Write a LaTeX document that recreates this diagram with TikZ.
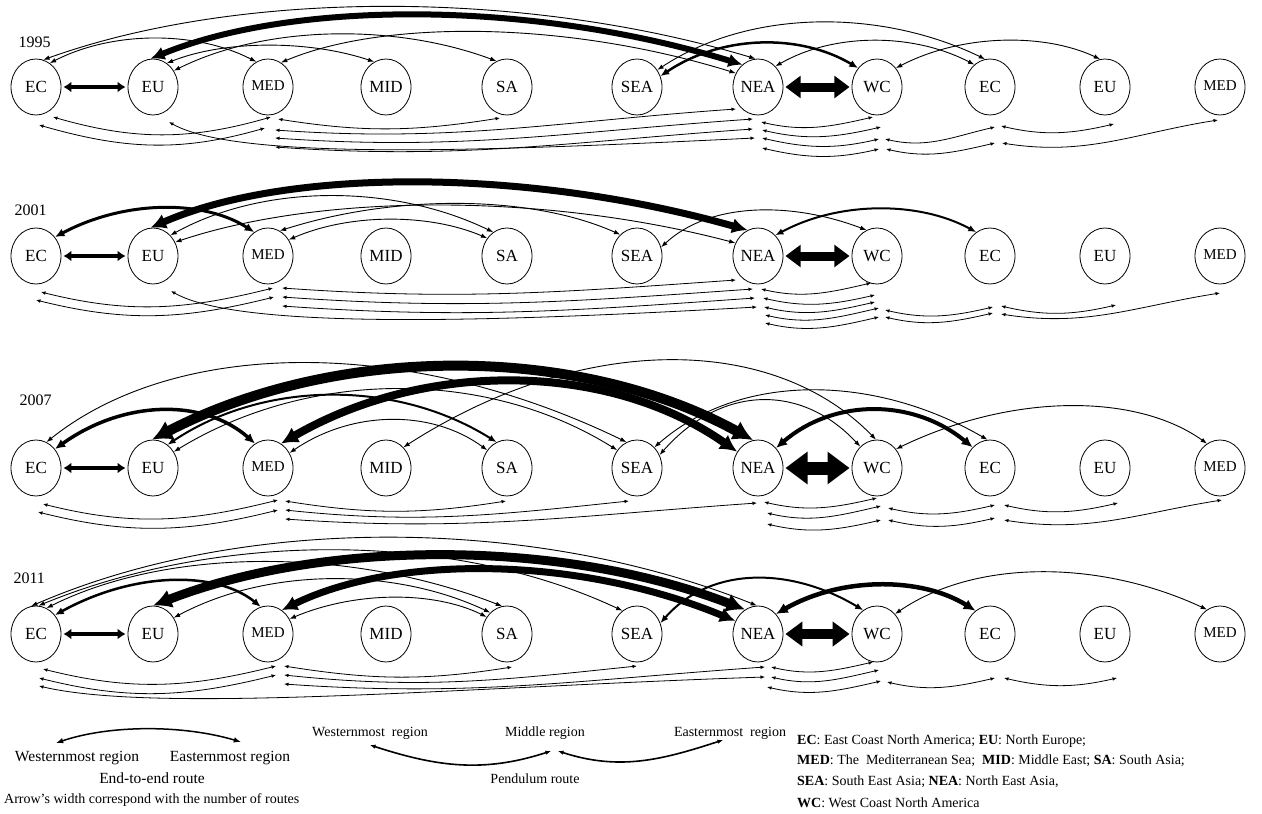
\documentclass[tikz,border=0pt]{standalone}
\usepackage{fontspec}
\setmainfont{Liberation Serif}
\usetikzlibrary{arrows.meta,shapes.geometric}
\newcommand\pd[5]{\draw[pend] ([shift={(#2)}]#1.center) to[sag=#5] ([shift={(#4)}]#3.center);}
\newcommand\ta[6][0.9pt]{\draw[e2e=#1] (#2) .. controls (#4,#6) and (#5,#6) .. (#3);}
\begin{document}
\begin{tikzpicture}[x=1pt,y=1pt,
  region/.style={draw, ellipse, line width=0.8pt, minimum width=50pt, minimum height=56pt, inner sep=0pt, font=\fontsize{17}{17}\selectfont},
  regionm/.style={region, font=\fontsize{15}{15}\selectfont},
  e2e/.style={line width=#1, {Latex[length=5pt 1.5, width=3pt 1.8]}-{Latex[length=5pt 1.5, width=3pt 1.8]}},
  pend/.style={line width=0.8pt, {Latex[length=4.5pt,width=3.6pt]}-{Latex[length=4.5pt,width=3.6pt]}},
  pendL/.style={line width=1.6pt, {Latex[length=5.5pt,width=4.5pt]}-{Latex[length=5.5pt,width=4.5pt]}},
  sag/.code={\pgfmathsetmacro\sgin{180+#1}\pgfkeysalso{out=-#1,in=\sgin}},
  hbar/.style={line width=4pt, shorten >=2pt, shorten <=2pt, {Latex[length=8pt,width=11pt]}-{Latex[length=8pt,width=11pt]}},
  block/.style={line width=#1, shorten >=2pt, shorten <=2pt, {Triangle[length=1.7*#1,width=2.4*#1]}-{Triangle[length=1.7*#1,width=2.4*#1]}},
  yr/.style={anchor=west, font=\fontsize{16}{16}\selectfont},
  lg/.style={font=\fontsize{15.5}{16}\selectfont, inner sep=0pt},
  lgs/.style={font=\fontsize{14}{16}\selectfont, inner sep=0pt},
]
\useasboundingbox (0,0) rectangle (1262,-814);
\fill[white] (0,0) rectangle (1262,-814);

% ---------- nodes ----------
\foreach \r/\yy in {a/87,b/256,c/468,d/634}{
  \foreach \n/\xx/\lab in {EC/36/EC, EU/153/EU, MID/386/MID, SA/507/SA, SEA/637/SEA, NEA/758/NEA, WC/877/WC, ECb/990/EC, EUb/1105/EU}
    \node[region] (\r\n) at (\xx,-\yy) {\lab};
  \node[regionm] (\r MED) at (268,-\yy) {\raisebox{2pt}{MED}};
  \node[regionm] (\r MEDb) at (1220,-\yy) {\raisebox{2pt}{MED}};
}
\node[yr] (y1995) at (15,-42) {1995};
\node[yr] (y2001) at (11,-210) {2001};
\node[yr] (y2007) at (16,-400) {2007};
\node[yr] (y2011) at (10,-578) {2011};

% ---------- 1995 ----------
\draw[hbar] (aEC.east) -- (aEU.west);
\draw[block=9pt] (aNEA.east) -- (aWC.west);
\ta{aEC.75}{aNEA.95}{240}{524}{10.7}
\ta{aEC.60}{aMED.115}{113}{196}{-30.7}
\ta[6pt]{aEU.95}{aNEA.125}{294}{531}{0}
\ta{aEU.60}{aMID.115}{225}{309}{-40}
\ta{aEU.38}{aSA.112}{268}{397}{-24}
\ta{aMED.62}{aNEA.148}{382}{564}{-20}
\ta[2.5pt]{aSEA.25}{aWC.135}{723}{801}{-34}
\ta{aSEA.40}{aECb.100}{750}{881}{-8.7}
\ta{aNEA.50}{aECb.125}{834}{913}{-32.7}
\ta{aWC.45}{aEUb.100}{963}{1045}{-33.3}
\pd{aEC}{17,-30}{aMED}{3,-30}{16}
\pd{aEC}{3,-38}{aMED}{-3,-41}{16}
\pd{aMED}{10,-32}{aSA}{-7,-31}{9}
\pd{aMED}{7,-43}{aNEA}{-22,-22}{4}
\pd{aMED}{7,-51}{aNEA}{-5,-32}{4}
\pd{aMED}{7,-60}{aNEA}{-5,-42}{4}
\draw[pend] ([shift={(16,-35)}]aEU.center) .. controls +(70,-40) and +(-250,-12) .. ([shift={(-3,-51)}]aNEA.center);
\pd{aNEA}{3,-35}{aWC}{-4,-30}{13}
\pd{aNEA}{4,-43}{aWC}{4,-40}{13}
\pd{aNEA}{4,-51}{aWC}{2,-52}{13}
\pd{aNEA}{4,-61}{aWC}{2,-62}{13}
\pd{aWC}{8,-52}{aECb}{5,-40}{13}
\pd{aWC}{9,-62}{aECb}{5,-56}{13}
\pd{aECb}{11,-39}{aEUb}{9,-37}{13}
\pd{aECb}{12,-56}{aMEDb}{-2,-33}{9}

% ---------- 2001 ----------
\draw[hbar] (bEC.east) -- (bEU.west);
\draw[block=9pt] (bNEA.east) -- (bWC.west);
\ta[3pt]{bEC.45}{bMED.120}{125}{204}{-199.7}
\ta[7pt]{bEU.95}{bNEA.112}{288}{527}{-167.7}
\ta{bEU.50}{bSA.120}{264}{393}{-183.7}
\ta{bEU.32}{bNEA.150}{322}{546}{-193}
\ta{bMED.65}{bSEA.128}{394}{530}{-194.3}
\ta{bMED.38}{bSA.138}{350}{429}{-213.3}
\ta{bSEA.20}{bWC.112}{710}{792}{-201.7}
\ta[2pt]{bNEA.50}{bECb.120}{839}{919}{-201}
\pd{bEC}{5,-36}{bMED}{5,-32}{14}
\pd{bEC}{0,-44}{bMED}{6,-41}{14}
\pd{bMED}{14,-32}{bNEA}{-22,-24}{4}
\pd{bMED}{14,-41}{bNEA}{-5,-33}{4}
\pd{bMED}{14,-50}{bNEA}{-3,-42}{4}
\draw[pend] ([shift={(18,-35)}]bEU.center) .. controls +(70,-40) and +(-250,-14) .. ([shift={(-1,-51)}]bNEA.center);
\pd{bNEA}{3,-33}{bWC}{-6,-27}{13}
\pd{bNEA}{5,-42}{bWC}{-2,-39}{13}
\pd{bNEA}{6,-51}{bWC}{-2,-46}{13}
\pd{bNEA}{7,-59}{bWC}{2,-52}{13}
\pd{bNEA}{7,-67}{bWC}{2,-61}{13}
\pd{bWC}{8,-54}{bECb}{3,-51}{13}
\pd{bWC}{8,-61}{bECb}{3,-57}{13}
\pd{bECb}{11,-50}{bEUb}{11,-49}{13}
\pd{bECb}{11,-58}{bMEDb}{0,-37}{9}

% ---------- 2007 ----------
\draw[hbar] (cEC.east) -- (cEU.west);
\draw[block=13pt] (cNEA.east) -- (cWC.west);
\ta{cEC.68}{cSEA.112}{178}{410}{-337}
\ta[3.5pt]{cEC.45}{cMED.118}{125}{205}{-399}
\ta[10pt]{cEU.92}{cNEA.100}{337}{577}{-343.7}
\ta[2pt]{cEU.58}{cSA.112}{265}{397}{-379.7}
\ta{cEU.38}{cSEA.138}{310}{487}{-368.7}
\ta[8pt]{cMED.62}{cNEA.142}{424}{607}{-360.7}
\ta{cMED.35}{cSA.138}{353}{432}{-409.7}
\ta{cMID.50}{cWC.92}{581}{772}{-333}
\ta{cSEA.30}{cWC.128}{722}{802}{-384}
\ta{cSEA.50}{cECb.95}{739}{872}{-373}
\ta[4pt]{cNEA.48}{cECb.130}{834}{913}{-398.3}
\ta{cWC.45}{cMEDb.118}{1012}{1136}{-393}
\pd{cEC}{7,-36}{cMED}{10,-32}{14}
\pd{cEC}{2,-44}{cMED}{10,-42}{14}
\pd{cMED}{17,-33}{cSA}{-1,-33}{9}
\pd{cMED}{17,-42}{cSEA}{-8,-33}{6}
\pd{cMED}{17,-51}{cNEA}{-1,-35}{4}
\pd{cNEA}{6,-34}{cWC}{0,-30}{13}
\pd{cNEA}{9,-45}{cWC}{4,-38}{13}
\pd{cNEA}{9,-56}{cWC}{4,-52}{13}
\pd{cWC}{11,-40}{cECb}{5,-37}{13}
\pd{cWC}{11,-52}{cECb}{5,-50}{13}
\pd{cECb}{14,-37}{cEUb}{13,-35}{13}
\pd{cECb}{14,-52}{cMEDb}{2,-32}{9}

% ---------- 2011 ----------
\draw[hbar] (dEC.east) -- (dEU.west);
\draw[block=10pt] (dNEA.east) -- (dWC.west);
\ta{dEC.100}{dNEA.92}{241}{531}{-515}
\ta{dEC.85}{dSEA.122}{220}{453}{-531}
\ta{dEC.68}{dSA.100}{169}{351}{-547}
\ta[2.5pt]{dEC.45}{dMED.105}{135}{217}{-571}
\ta[9pt]{dEU.90}{dNEA.118}{325}{562}{-539}
\ta{dEU.38}{dSA.128}{268}{394}{-567.3}
\ta[7pt]{dMED.60}{dNEA.150}{394}{576}{-555}
\ta{dMED.35}{dSA.140}{356}{434}{-591}
\ta[2pt]{dSEA.25}{dWC.120}{710}{790}{-566.3}
\ta[4.5pt]{dNEA.48}{dECb.122}{841}{921}{-576.7}
\ta{dWC.48}{dMEDb.118}{975}{1099}{-559.3}
\pd{dEC}{7,-35}{dMED}{8,-32}{14}
\pd{dEC}{3,-44}{dMED}{8,-41}{14}
\draw[pend] ([shift={(3,-52)}]dEC.center) .. controls +(120,-28) and +(-300,-10) .. ([shift={(7,-43)}]dNEA.center);
\pd{dMED}{16,-32}{dSA}{5,-33}{9}
\pd{dMED}{16,-41}{dSEA}{0,-32}{6}
\pd{dMED}{16,-50}{dNEA}{7,-33}{4}
\pd{dNEA}{13,-33}{dWC}{-4,-28}{13}
\pd{dNEA}{13,-43}{dWC}{2,-36}{13}
\pd{dNEA}{9,-53}{dWC}{4,-47}{13}
\pd{dWC}{10,-48}{dECb}{5,-44}{13}
\pd{dECb}{14,-44}{dEUb}{12,-44}{13}

% ---------- legend ----------
\coordinate (lgA) at (56,-743);
\coordinate (lgB) at (241,-742);
\draw[e2e=1.5pt] (lgA) .. controls (110,-724.7) and (183,-724.7) .. (lgB);
\node[lg] (lgW) at (77,-758) {Westernmost region};
\node[lg] (lgE) at (230,-758) {Easternmost region};
\node[lg] (lgR) at (152,-778) {End-to-end route};
\node[lgs, anchor=west] (lgN) at (4,-800) {Arrow’s width correspond with the number of routes};

\coordinate (pW) at (370,-745);
\coordinate (pM1) at (551,-751);
\coordinate (pM2) at (558,-751);
\coordinate (pE) at (723,-740);
\draw[pendL] (pW) to[sag=18] (pM1);
\draw[pendL] (pM2) to[sag=18] (pE);
\node[lgs] (pLW) at (370,-733) {Westernmost\ \ region};
\node[lgs] (pLM) at (545,-733) {Middle region};
\node[lgs] (pLE) at (730,-733) {Easternmost\ \ region};
\node[lgs] (pLR) at (535,-779) {Pendulum route};

\node[lgs, anchor=west] (k1) at (797,-741) {\textbf{EC}: East Coast North America; \textbf{EU}: North Europe;};
\node[lgs, anchor=west] (k2) at (797,-761) {\textbf{MED}: The\ \ Mediterranean Sea;\ \ \textbf{MID}: Middle East; \textbf{SA}: South Asia;};
\node[lgs, anchor=west] (k3) at (797,-782) {\textbf{SEA}: South East Asia; \textbf{NEA}: North East Asia,};
\node[lgs, anchor=west] (k4) at (797,-803) {\textbf{WC}: West Coast North America};
\end{tikzpicture}
\end{document}
